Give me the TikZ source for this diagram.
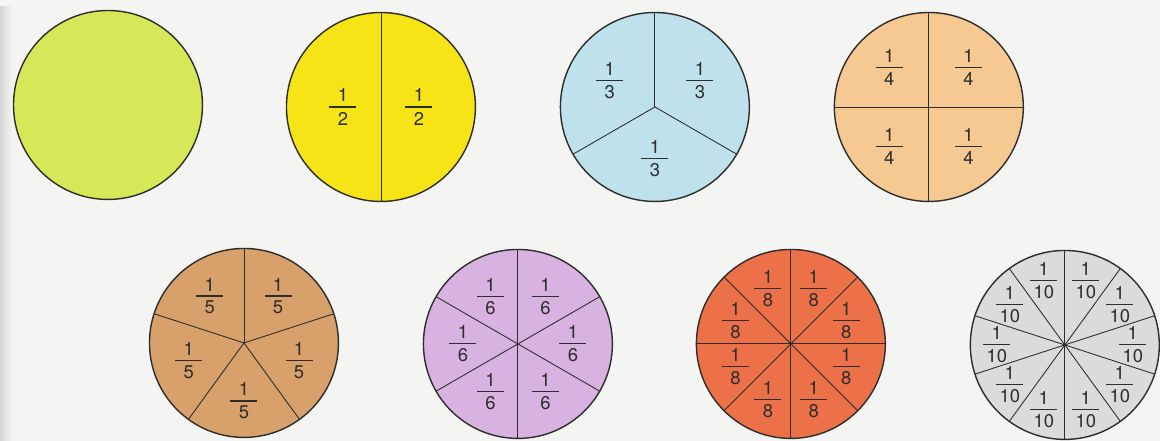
\documentclass[tikz,border=0pt]{standalone}
\usepackage{fontspec}
\setmainfont{TeX Gyre Heros}
\usepackage{xcolor}
\usepackage{tikz}

\definecolor{paper}{RGB}{244,244,242}
\definecolor{edge}{RGB}{212,212,210}
\definecolor{ink}{RGB}{45,45,45}
\definecolor{lime}{RGB}{214,232,88}
\definecolor{yel}{RGB}{246,228,22}
\definecolor{sky}{RGB}{190,225,236}
\definecolor{peach}{RGB}{246,201,146}
\definecolor{tan}{RGB}{216,160,106}
\definecolor{lilac}{RGB}{216,178,224}
\definecolor{coral}{RGB}{236,112,72}
\definecolor{silver}{RGB}{219,219,220}

% unit fraction with a fixed bar
\newcommand{\frc}[1]{\vbox{\hbox to 15.4pt{\hss 1\hss}\kern2.5pt
  \hrule height 0.7pt\kern2.5pt\hbox to 15.4pt{\hss #1\hss}}}

\begin{document}
\begin{tikzpicture}[
  x=0.2mm, y=0.2mm,
  disc/.style={circle, draw=ink, line width=0.8pt, minimum size=3.78cm,
               inner sep=0pt, outer sep=0pt},
  cut/.style={draw=ink, line width=0.5pt},
  lab/.style={inner sep=0pt, text=ink, font=\fontsize{10.5}{12}\selectfont}
]
% page
\fill[paper] (0,0) rectangle (1160,441);
\shade[left color=edge, right color=paper] (0,0) rectangle (12,434);
% row 1
\node[disc, fill=lime]  (whole)   at (108,336) {};
\node[disc, fill=yel]   (half)    at (381,334) {};
\node[disc, fill=sky]   (third)   at (655,334) {};
\node[disc, fill=peach] (quarter) at (929,334) {};
% row 2
\node[disc, fill=tan]    (fifth)  at (244,98)  {};
\node[disc, fill=lilac]  (sixth)  at (518,97)  {};
\node[disc, fill=coral]  (eighth) at (791,97)  {};
\node[disc, fill=silver] (tenth)  at (1065,96) {};
% cuts
\draw[cut] (half.90) -- (half.270);
\foreach \a in {90,210,330} \draw[cut] (third.center) -- (third.\a);
\draw[cut] (quarter.90) -- (quarter.270) (quarter.0) -- (quarter.180);
\foreach \a in {18,90,...,306} \draw[cut] (fifth.center) -- (fifth.\a);
\foreach \a in {30,90,...,330} \draw[cut] (sixth.center) -- (sixth.\a);
\foreach \a in {0,45,...,315} \draw[cut] (eighth.center) -- (eighth.\a);
\foreach \a in {18,54,...,342} \draw[cut] (tenth.center) -- (tenth.\a);
% labels
\foreach \a [count=\i] in {0,180}
  \node[lab] (half-\i) at ([shift={(\a:38)}]half.center) {\frc{2}};
\foreach \a [count=\i] in {30,150,270}
  \node[lab] (third-\i) at ([shift={(\a:52)}]third.center) {\frc{3}};
\foreach \a [count=\i] in {45,135,225,315}
  \node[lab] (quarter-\i) at ([shift={(\a:56)}]quarter.center) {\frc{4}};
\foreach \a [count=\i] in {54,126,...,342}
  \node[lab] (fifth-\i) at ([shift={(\a:58)}]fifth.center) {\frc{5}};
\foreach \a [count=\i] in {0,60,...,300}
  \node[lab] (sixth-\i) at ([shift={(\a:55)}]sixth.center) {\frc{6}};
\foreach \a [count=\i] in {22.5,67.5,...,337.5}
  \node[lab] (eighth-\i) at ([shift={(\a:60)}]eighth.center) {\frc{8}};
\foreach \a [count=\i] in {0,36,...,324}
  \node[lab] (tenth-\i) at ([shift={(\a:68)}]tenth.center) {\frc{10}};
\end{tikzpicture}
\end{document}
